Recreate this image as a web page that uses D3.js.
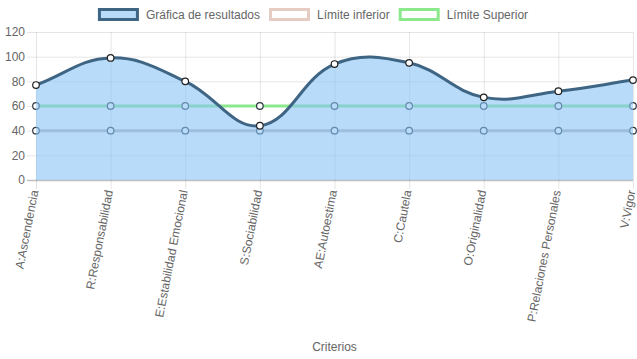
<!DOCTYPE html>
<html><head><meta charset="utf-8">
<script src="https://cdn.jsdelivr.net/npm/d3@7"></script>
<style>html,body{margin:0;padding:0;background:#fff;}svg{display:block;font-family:"Liberation Sans",Arial,sans-serif;}</style>
</head><body>
<svg id="c" width="637" height="359"></svg>
<script>
const categories = ["A:Ascendencia","R:Responsabilidad","E:Estabilidad Emocional","S:Sociabilidad","AE:Autoestima","C:Cautela","O:Originalidad","P:Relaciones Personales","V:Vigor"];
const resultados = [77, 99, 80, 44, 94, 95, 67, 72, 81];
const limiteInferior = [40, 40, 40, 40, 40, 40, 40, 40, 40];
const limiteSuperior = [60, 60, 60, 60, 60, 60, 60, 60, 60];
const yTicks = [0, 20, 40, 60, 80, 100, 120];
const legendLabels = ["Gráfica de resultados", "Límite inferior", "Límite Superior"];
const xTitle = "Criterios";

const svg = d3.select("#c");
const L = 36, R = 633, T = 32, B = 180;
const x = d3.scalePoint().domain(categories).range([L, R]);
const y = d3.scaleLinear().domain([0, 120]).range([B, T]);
const textColor = "#666";

// grid
const g = svg.append("g");
g.selectAll(".hg").data(yTicks).join("line")
  .attr("x1", L - 9).attr("x2", R).attr("y1", d => y(d) + 0.5).attr("y2", d => y(d) + 0.5)
  .attr("stroke", d => d === 0 ? "rgba(0,0,0,0.25)" : "rgba(0,0,0,0.1)").attr("stroke-width", d => d === 0 ? 1.5 : 1);
g.selectAll(".vg").data(categories).join("line")
  .attr("x1", d => x(d) + 0.5).attr("x2", d => x(d) + 0.5).attr("y1", T).attr("y2", B + 9)
  .attr("stroke", "rgba(0,0,0,0.1)");
g.selectAll(".yl").data(yTicks).join("text")
  .attr("x", L - 11).attr("y", d => y(d)).attr("dy", "0.35em").attr("text-anchor", "end")
  .attr("font-size", 12).attr("fill", textColor).text(d => d);
g.selectAll(".xl").data(categories).join("text")
  .attr("transform", d => `translate(${x(d) + 2.5},${B + 11}) rotate(-79)`)
  .attr("text-anchor", "end").attr("font-size", 12).attr("fill", textColor).text(d => d);
g.append("text").attr("x", (L + R) / 2).attr("y", 351).attr("text-anchor", "middle")
  .attr("font-size", 12).attr("fill", textColor).text(xTitle);

// Chart.js-like spline (tension 0.4)
function splinePath(vals, tension) {
  const pts = vals.map((v, i) => [x(categories[i]), y(v)]);
  const cps = pts.map((p, i) => {
    const prev = pts[i - 1] || p, next = pts[i + 1] || p;
    const d01 = Math.hypot(p[0] - prev[0], p[1] - prev[1]);
    const d12 = Math.hypot(next[0] - p[0], next[1] - p[1]);
    let s01 = d01 / (d01 + d12), s12 = d12 / (d01 + d12);
    if (isNaN(s01)) s01 = 0; if (isNaN(s12)) s12 = 0;
    const fa = tension * s01, fb = tension * s12;
    return {
      prev: [p[0] - fa * (next[0] - prev[0]), Math.min(B, Math.max(T, p[1] - fa * (next[1] - prev[1])))],
      next: [p[0] + fb * (next[0] - prev[0]), Math.min(B, Math.max(T, p[1] + fb * (next[1] - prev[1])))]
    };
  });
  const path = d3.path();
  path.moveTo(pts[0][0], pts[0][1]);
  for (let i = 1; i < pts.length; i++) {
    path.bezierCurveTo(cps[i - 1].next[0], cps[i - 1].next[1], cps[i].prev[0], cps[i].prev[1], pts[i][0], pts[i][1]);
  }
  return { d: path.toString(), pts };
}

const supColor = "rgb(140,232,140)";
const infColor = "rgb(195,180,185)";
const mainColor = "#3e6584";
const fillColor = "rgba(135,195,245,0.6)";

function drawLimit(vals, color) {
  const s = splinePath(vals, 0.4);
  svg.append("path").attr("d", s.d).attr("fill", "none").attr("stroke", color).attr("stroke-width", 3);
  svg.append("g").selectAll("circle").data(vals).join("circle")
    .attr("cx", (d, i) => x(categories[i])).attr("cy", d => y(d)).attr("r", 3.3)
    .attr("fill", "#fff").attr("stroke", "#2b3540").attr("stroke-width", 1.2);
}
drawLimit(limiteSuperior, supColor);
drawLimit(limiteInferior, infColor);

const main = splinePath(resultados, 0.4);
svg.append("path").attr("d", main.d + `L${R},${B}L${L},${B}Z`).attr("fill", fillColor);
svg.append("path").attr("d", main.d).attr("fill", "none").attr("stroke", mainColor).attr("stroke-width", 3);
svg.append("g").selectAll("circle").data(resultados).join("circle")
  .attr("cx", (d, i) => x(categories[i])).attr("cy", d => y(d)).attr("r", 3.3)
  .attr("fill", "#fff").attr("stroke", "#222").attr("stroke-width", 1.2);

// legend
const leg = svg.append("g");
const items = [
  { label: legendLabels[0], fill: "rgba(135,195,245,0.6)", stroke: mainColor },
  { label: legendLabels[1], fill: "#fff", stroke: "rgb(230,205,195)" },
  { label: legendLabels[2], fill: "#fff", stroke: supColor }
];
const widths = items.map(it => {
  const t = leg.append("text").attr("font-size", 12).text(it.label);
  const w = t.node().getComputedTextLength(); t.remove(); return w;
});
const itemW = widths.map(w => 40 + 7 + w);
const total = d3.sum(itemW) + 10 * (items.length - 1);
let cx = 312.5 - total / 2;
items.forEach((it, i) => {
  leg.append("rect").attr("x", cx + 1.5).attr("y", 9.5).attr("width", 38).attr("height", 10)
    .attr("fill", it.fill).attr("stroke", it.stroke).attr("stroke-width", 3);
  leg.append("text").attr("x", cx + 48).attr("y", 19).attr("font-size", 12).attr("fill", textColor).text(it.label);
  cx += itemW[i] + 10;
});
</script>
</body></html>
